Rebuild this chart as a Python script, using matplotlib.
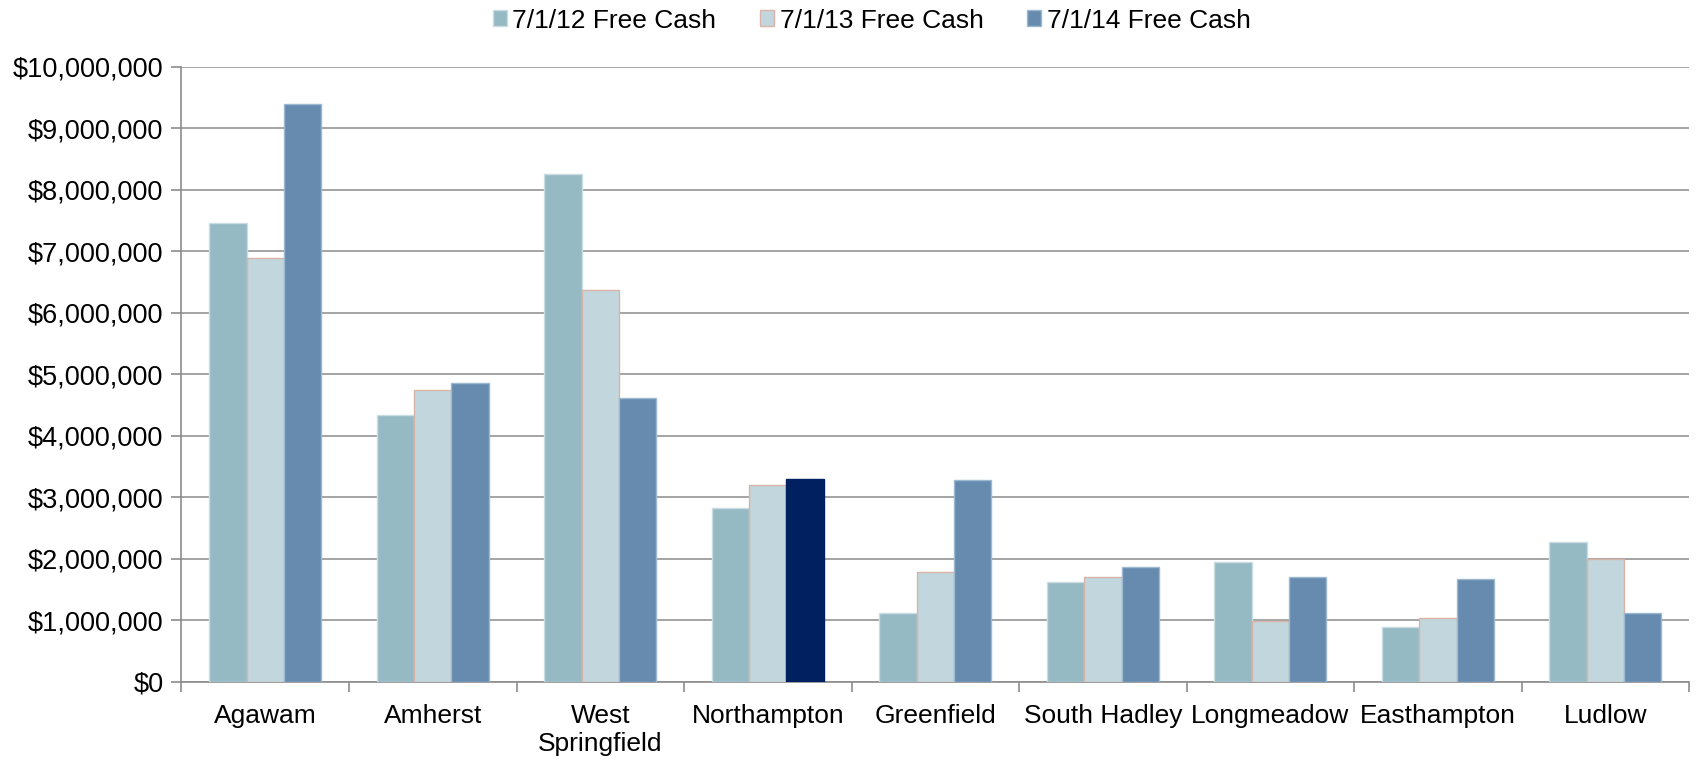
import matplotlib
matplotlib.use("Agg")
import matplotlib.pyplot as plt
import numpy as np
from matplotlib.ticker import FuncFormatter, FixedLocator

plt.rcParams['font.family'] = ['Liberation Sans', 'DejaVu Sans']

categories = ["Agawam", "Amherst", "West\nSpringfield", "Northampton", "Greenfield",
              "South Hadley", "Longmeadow", "Easthampton", "Ludlow"]
series_names = ["7/1/12 Free Cash", "7/1/13 Free Cash", "7/1/14 Free Cash"]
fc_2012 = [7460000, 4330000, 8250000, 2830000, 1125000, 1620000, 1950000, 890000, 2280000]
fc_2013 = [6890000, 4740000, 6370000, 3200000, 1780000, 1700000, 990000, 1030000, 1990000]
fc_2014 = [9400000, 4860000, 4620000, 3300000, 3280000, 1860000, 1700000, 1670000, 1120000]
y_ticks = [0, 1000000, 2000000, 3000000, 4000000, 5000000, 6000000, 7000000, 8000000, 9000000, 10000000]

faces = ["#95BAC4", "#C2D6DD", "#668BAF"]
edges = ["#C9DDE3", "#D8B4A8", "#9DB9D0"]
highlight_face = "#00205F"

fig = plt.figure(figsize=(16.96, 7.6), dpi=100)
ax = fig.add_axes([0.107, 0.103, 0.889, 0.809])

x = np.arange(len(categories))
w = 0.223
data = [fc_2012, fc_2013, fc_2014]
handles = []
for i, vals in enumerate(data):
    bars = ax.bar(x + (i - 1) * w, vals, width=w, color=faces[i], edgecolor=edges[i],
                  linewidth=1.0, zorder=3, label=series_names[i])
    handles.append(bars)
# Northampton 2014 highlighted
handles[2][3].set_facecolor(highlight_face)
handles[2][3].set_edgecolor(highlight_face)

ax.set_xlim(-0.5, len(categories) - 0.5)
ax.set_ylim(0, 10000000)
ax.yaxis.set_major_locator(FixedLocator(y_ticks))
ax.yaxis.set_major_formatter(FuncFormatter(lambda v, p: "${:,.0f}".format(v)))
ax.grid(axis='y', color="#8C8C8C", linewidth=1.1, zorder=0)
ax.set_axisbelow(True)

ax.set_xticks(x)
ax.set_xticklabels(categories, fontsize=19, color="black")
ax.set_xticks(np.arange(-0.5, len(categories), 1.0), minor=True)
ax.tick_params(axis='x', which='major', length=0, pad=16)
ax.tick_params(axis='x', which='minor', length=7, width=1.2, color="#8C8C8C")
ax.tick_params(axis='y', which='major', length=7, width=1.2, color="#8C8C8C",
               labelsize=19.5, labelcolor="black", pad=6)

for s in ['top', 'right']:
    ax.spines[s].set_visible(False)
for s in ['left', 'bottom']:
    ax.spines[s].set_color("#8C8C8C")
    ax.spines[s].set_linewidth(1.2)

leg = fig.legend(handles=handles, labels=series_names, loc='center', bbox_to_anchor=(0.514, 0.973),
                 ncol=3, frameon=False, fontsize=19, handlelength=0.53, handleheight=0.53,
                 handletextpad=0.2, columnspacing=1.67)

fig.savefig("out.png", dpi=100)
